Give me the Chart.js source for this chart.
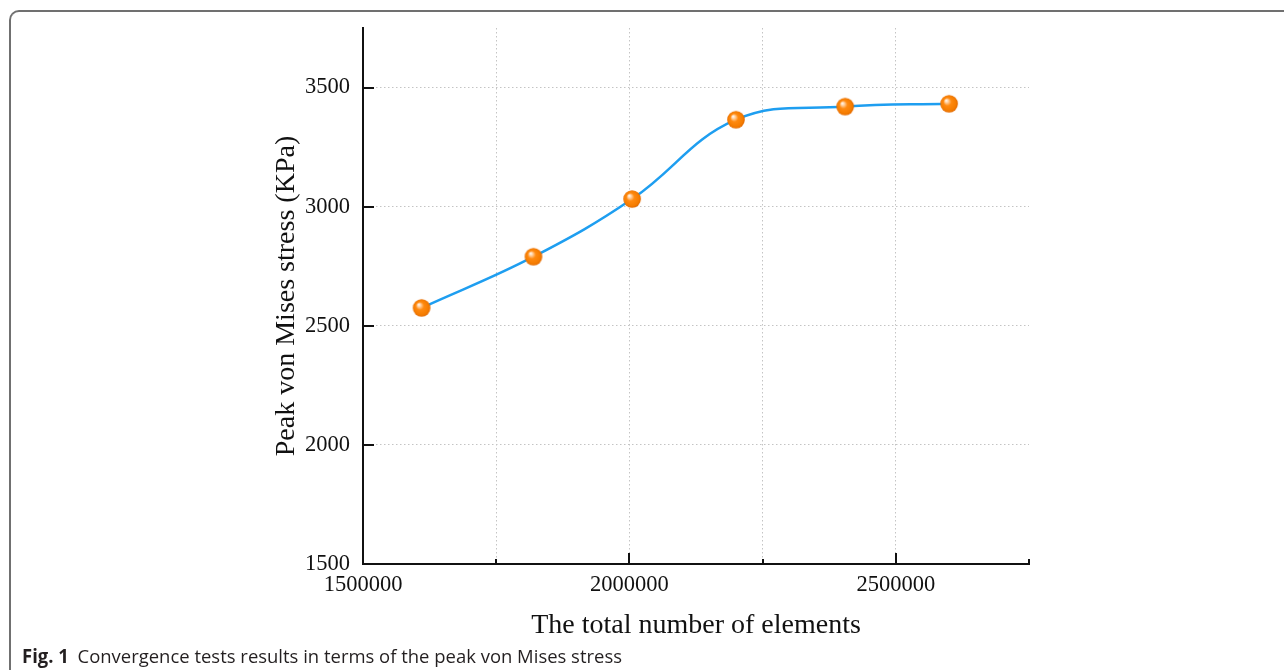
<!DOCTYPE html>
<html>
<head>
<meta charset="utf-8">
<script src="https://cdn.jsdelivr.net/npm/chart.js@4/dist/chart.umd.min.js"></script>
<style>
  html, body { margin: 0; padding: 0; background: #ffffff; }
  #wrap { position: relative; width: 1284px; height: 670px; overflow: hidden; background: #fff; }
  #frame { position: absolute; left: 9px; top: 10px; width: 1400px; height: 800px;
           border-top: 2px solid #707070; border-left: 2px solid #707070; border-top-left-radius: 10px; }
  #chart { position: absolute; left: 0; top: 0; }
  #caption { position: absolute; left: 22px; top: 643px; font-family: "Open Sans", "Noto Sans", sans-serif;
             font-size: 19px; color: #231f20; white-space: nowrap; transform-origin: 0 0; }
  #caption b { font-weight: 700; margin-right: 9px; }
</style>
</head>
<body>
<div id="wrap">
  <div id="frame"></div>
  <canvas id="chart" width="1284" height="670"></canvas>
  <div id="caption"><b>Fig. 1</b>Convergence tests results in terms of the peak von Mises stress</div>
</div>
<script>
// ---- data ----
const elements = [1610000, 1820000, 2005000, 2200000, 2405000, 2600000];
const peakStress = [2575, 2790, 3032, 3365, 3420, 3432];
const xTickValues = [1500000, 1750000, 2000000, 2250000, 2500000, 2750000];
const xLabelValues = [1500000, 2000000, 2500000];
const yTickValues = [1500, 2000, 2500, 3000, 3500];
const xTitle = 'The total number of elements';
const yTitle = 'Peak von Mises stress (KPa)';

// ---- sphere marker ----
function makeSphere(r) {
  const c = document.createElement('canvas');
  const s = Math.ceil(r * 2 + 2);
  c.width = s; c.height = s;
  const g = c.getContext('2d');
  const cx = s / 2, cy = s / 2;
  const grad = g.createRadialGradient(cx - r * 0.35, cy - r * 0.4, 0, cx, cy, r);
  grad.addColorStop(0, '#ffffff');
  grad.addColorStop(0.2, '#ffd0a0');
  grad.addColorStop(0.45, '#ff8a10');
  grad.addColorStop(0.85, '#f57c00');
  grad.addColorStop(1, '#e06800');
  g.fillStyle = grad;
  g.beginPath(); g.arc(cx, cy, r, 0, Math.PI * 2); g.fill();
  return c;
}
const sphere = makeSphere(8.8);

const serif = '"Liberation Serif", "Times New Roman", serif';

// ---- inward ticks plugin ----
const innerTicks = {
  id: 'innerTicks',
  afterDatasetsDraw(chart) {
    const ctx = chart.ctx;
    const xs = chart.scales.x, ys = chart.scales.y;
    const area = chart.chartArea;
    ctx.save();
    ctx.strokeStyle = '#111';
    ctx.lineWidth = 2;
    xTickValues.forEach(v => {
      const px = Math.round(xs.getPixelForValue(v));
      const len = (xLabelValues.includes(v)) ? 11 : 5;
      ctx.beginPath(); ctx.moveTo(px, area.bottom); ctx.lineTo(px, area.bottom - len); ctx.stroke();
    });
    yTickValues.forEach(v => {
      const py = Math.round(ys.getPixelForValue(v));
      ctx.beginPath(); ctx.moveTo(area.left, py); ctx.lineTo(area.left + 11, py); ctx.stroke();
    });
    ctx.restore();
  }
};

new Chart(document.getElementById('chart'), {
  type: 'line',
  data: {
    datasets: [{
      data: elements.map((x, i) => ({ x: x, y: peakStress[i] })),
      borderColor: '#1e9ef0',
      borderWidth: 2.5,
      tension: 0.4,
      pointStyle: sphere,
      pointRadius: 9,
      fill: false
    }]
  },
  options: {
    responsive: false,
    animation: false,
    events: [],
    layout: { padding: { left: 263, right: 255, top: 28, bottom: 28 } },
    plugins: { legend: { display: false }, tooltip: { enabled: false } },
    scales: {
      x: {
        type: 'linear',
        min: 1500000, max: 2750000,
        afterBuildTicks: s => { s.ticks = xTickValues.map(v => ({ value: v })); },
        afterFit: s => { s.height = 78; },
        ticks: {
          autoSkip: false, maxRotation: 0, padding: 8,
          color: '#111', font: { family: serif, size: 22.5 },
          callback: v => xLabelValues.includes(v) ? String(v) : ''
        },
        grid: {
          drawTicks: false, lineWidth: 1,
          color: ctx => (ctx.tick && (ctx.tick.value === 1500000 || ctx.tick.value === 2750000)) ? 'rgba(0,0,0,0)' : '#c4c4c4'
        },
        border: { display: true, color: '#111', width: 2, dash: [1.5, 2.5] },
        title: { display: true, text: xTitle, color: '#111', font: { family: serif, size: 28 }, padding: { top: 0, bottom: 0 } }
      },
      y: {
        type: 'linear',
        min: 1500, max: 3750,
        afterBuildTicks: s => { s.ticks = yTickValues.map(v => ({ value: v })); },
        afterFit: s => { s.width = 100; },
        ticks: {
          padding: 13, color: '#111', font: { family: serif, size: 22.5 },
          callback: v => String(v)
        },
        grid: {
          drawTicks: false, lineWidth: 1,
          color: ctx => (ctx.tick && ctx.tick.value === 1500) ? 'rgba(0,0,0,0)' : '#c4c4c4'
        },
        border: { display: true, color: '#111', width: 2, dash: [1.5, 2.5] },
        title: { display: true, text: yTitle, color: '#111', font: { family: serif, size: 28 }, padding: { top: 7, bottom: 0 } }
      }
    }
  },
  plugins: [innerTicks]
});

// fit caption width to the reference span
const cap = document.getElementById('caption');
const w = cap.getBoundingClientRect().width;
cap.style.transform = 'scaleX(' + (600 / w) + ')';
</script>
</body>
</html>
